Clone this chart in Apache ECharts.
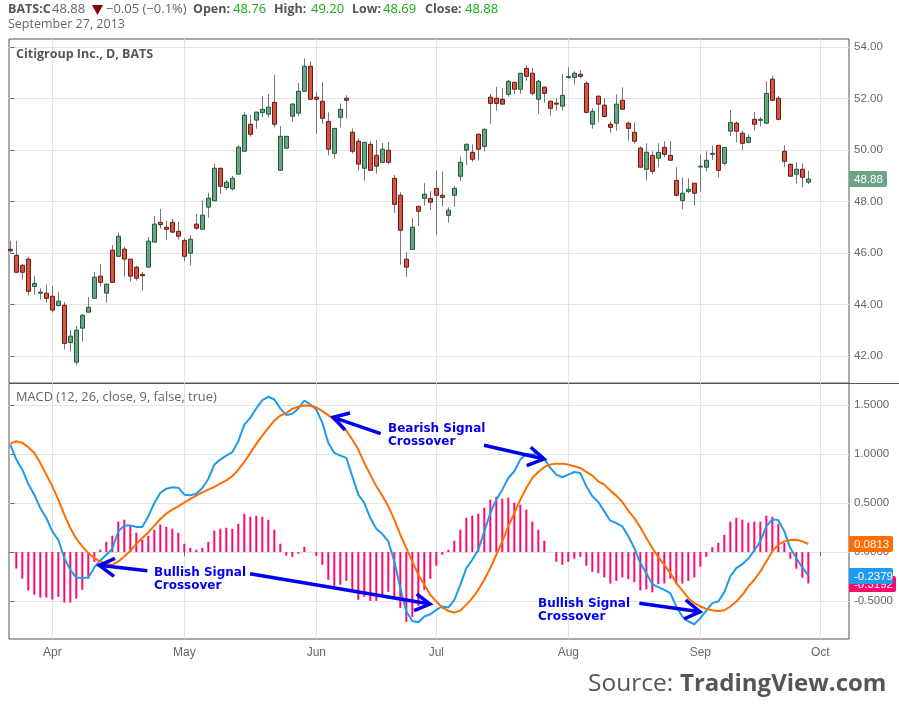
<!DOCTYPE html>
<html>
<head>
<meta charset="utf-8">
<title>Citigroup MACD</title>
<style>
html, body { margin: 0; padding: 0; background: #fff; }
#main { width: 899px; height: 710px; }
</style>
<script src="https://cdn.jsdelivr.net/npm/echarts@6/dist/echarts.min.js"></script>
</head>
<body>
<div id="main"></div>
<script>
// daily bars (index = trading day)
var opens = [46.15,45.92,45.53,45.77,44.71,44.45,44.45,44.33,43.97,43.98,42.53,41.77,43.09,43.71,44.25,45.11,44.45,46.12,45.88,46.16,45.77,45.46,45.18,45.46,46.43,47.20,47.01,47.20,46.85,46.50,46.00,47.13,46.93,47.79,48.04,49.30,48.55,48.50,49.07,49.96,51.01,51.17,51.46,51.40,51.86,49.22,50.08,51.32,51.44,52.29,53.26,52.06,51.90,51.12,49.88,51.28,52.02,50.70,50.35,49.30,50.23,49.80,49.53,50.00,48.91,48.25,45.77,46.15,47.82,48.13,48.13,48.52,48.25,47.47,48.25,48.99,50.00,49.92,50.62,50.15,52.06,52.02,51.98,52.17,52.64,52.37,53.18,52.99,51.98,52.45,51.90,51.83,51.71,52.82,52.83,52.95,52.60,51.01,52.10,51.75,51.01,51.05,51.94,51.05,50.70,50.08,49.26,49.80,49.69,50.11,49.80,48.83,48.05,48.40,48.72,49.35,49.34,49.84,50.19,49.49,50.74,51.05,50.66,50.31,51.20,51.16,51.05,52.76,52.02,49.96,49.45,49.07,49.26,48.76];
var closes = [46.10,45.26,45.26,44.52,44.83,44.49,44.25,43.79,44.14,42.50,42.78,43.01,43.59,43.90,45.07,44.87,44.80,44.87,46.66,45.77,45.11,45.03,45.13,46.47,47.13,47.11,46.93,46.82,46.66,45.88,46.54,46.97,47.48,48.14,49.30,48.60,48.76,48.91,50.12,51.36,50.62,51.48,51.59,51.67,51.01,50.54,50.54,51.79,52.29,53.26,51.98,51.98,51.24,50.04,50.85,51.59,51.94,49.96,49.46,50.31,49.22,49.38,50.04,49.53,47.90,46.89,45.46,47.01,47.63,48.29,47.98,48.25,48.17,47.67,48.52,49.53,50.23,49.65,50.04,50.81,51.82,51.82,51.79,52.68,52.37,52.99,52.87,52.21,52.68,52.21,51.63,51.79,52.13,52.86,52.99,52.87,51.47,51.51,51.79,51.31,50.89,51.79,51.59,50.85,50.35,49.34,49.92,49.18,49.92,49.84,49.61,48.25,48.33,48.48,48.33,49.38,49.61,49.88,49.22,50.11,51.08,50.74,50.27,50.50,51.01,51.20,52.21,51.94,51.20,49.57,48.99,49.26,48.95,48.88];
var lows = [46.03,45.26,44.98,44.36,44.38,44.20,44.08,43.70,43.93,42.26,42.18,41.64,42.57,43.71,44.25,44.71,44.08,44.87,45.88,45.09,44.90,44.94,44.55,45.46,46.43,46.96,46.53,46.78,46.53,45.68,45.52,46.91,46.93,47.38,48.03,48.30,48.46,48.43,49.07,49.96,50.53,50.84,51.28,51.28,50.88,49.22,50.04,51.11,51.33,52.29,51.98,50.64,51.03,49.79,49.67,50.88,51.23,49.87,49.21,48.82,49.22,49.09,49.53,49.46,47.57,45.56,45.09,46.15,47.07,47.85,47.68,46.72,47.81,47.19,47.81,48.81,49.43,49.55,49.60,49.95,51.03,51.54,51.79,52.08,52.19,52.19,52.70,52.13,51.42,51.85,51.34,51.54,51.54,52.77,52.55,52.78,51.43,50.84,51.11,51.27,50.68,50.76,51.59,50.37,50.26,49.34,48.83,49.07,49.34,49.73,49.61,48.21,47.71,48.33,47.85,48.39,49.18,49.63,48.95,49.41,50.55,50.31,50.00,50.27,50.77,50.93,51.01,51.94,51.16,49.34,48.99,48.70,48.56,48.69];
var highs = [46.48,46.48,45.59,45.86,45.12,44.64,44.77,44.73,44.49,44.11,43.02,43.18,43.64,44.29,45.28,45.59,44.83,46.32,46.80,46.25,45.77,45.51,45.28,46.63,47.45,47.72,47.26,47.33,47.22,46.58,46.71,47.53,48.05,48.35,49.47,49.32,48.85,49.00,50.19,51.48,51.37,51.50,52.11,52.19,52.93,50.94,50.54,51.83,52.61,53.57,53.45,52.26,52.64,51.47,50.85,51.82,52.13,50.85,50.46,50.31,50.35,50.40,50.28,50.32,49.04,48.37,46.04,47.37,47.82,48.72,48.41,49.22,49.18,47.78,48.60,49.76,50.27,50.23,50.66,50.85,52.19,52.46,52.41,52.73,52.64,52.99,53.31,53.20,52.73,52.48,51.94,52.02,52.96,53.22,53.07,53.10,52.68,51.63,52.13,52.02,51.12,52.17,52.44,51.12,51.08,50.15,50.27,49.96,50.27,50.35,50.35,49.34,48.95,48.91,48.72,49.84,49.96,50.19,50.19,50.11,51.56,51.12,50.77,50.62,51.49,51.28,52.68,52.89,52.10,50.19,49.49,49.53,49.49,49.20];

// MACD pane
var histogram = [-0.01,-0.167,-0.27,-0.39,-0.435,-0.463,-0.463,-0.483,-0.456,-0.514,-0.514,-0.473,-0.384,-0.27,-0.10,0.024,0.105,0.167,0.31,0.33,0.27,0.197,0.126,0.167,0.228,0.28,0.258,0.238,0.197,0.085,0.044,0.024,0.044,0.105,0.218,0.238,0.248,0.238,0.289,0.39,0.36,0.37,0.36,0.33,0.228,0.085,-0.037,-0.048,-0.017,0.054,0.003,-0.037,-0.129,-0.282,-0.344,-0.333,-0.293,-0.384,-0.486,-0.456,-0.497,-0.497,-0.435,-0.405,-0.456,-0.568,-0.711,-0.66,-0.548,-0.384,-0.272,-0.139,-0.027,0.024,0.116,0.228,0.35,0.371,0.391,0.452,0.534,0.565,0.544,0.554,0.503,0.483,0.432,0.31,0.228,0.116,0.003,-0.099,-0.129,-0.099,-0.068,-0.048,-0.139,-0.2,-0.214,-0.258,-0.32,-0.293,-0.258,-0.276,-0.306,-0.391,-0.378,-0.41,-0.327,-0.32,-0.272,-0.32,-0.32,-0.293,-0.258,-0.15,-0.048,0.05,0.095,0.177,0.31,0.35,0.33,0.3,0.31,0.31,0.371,0.36,0.289,0.095,-0.068,-0.17,-0.262,-0.3192];
var macdLine = [1.095,0.942,0.84,0.694,0.585,0.449,0.347,0.211,0.126,-0.061,-0.18,-0.259,-0.265,-0.259,-0.156,-0.085,-0.027,0.034,0.211,0.272,0.272,0.255,0.255,0.364,0.5,0.602,0.646,0.66,0.656,0.585,0.578,0.595,0.653,0.745,0.891,0.942,0.983,1.017,1.129,1.299,1.367,1.463,1.548,1.582,1.554,1.463,1.395,1.408,1.463,1.544,1.503,1.452,1.316,1.112,1.01,0.983,0.959,0.772,0.585,0.5,0.347,0.238,0.184,0.109,-0.095,-0.367,-0.605,-0.701,-0.714,-0.656,-0.633,-0.588,-0.554,-0.565,-0.486,-0.333,-0.163,-0.078,0.024,0.211,0.398,0.534,0.636,0.755,0.823,0.942,1.0,0.993,1.01,0.952,0.857,0.789,0.762,0.789,0.816,0.806,0.67,0.568,0.51,0.415,0.32,0.296,0.262,0.16,0.041,-0.112,-0.214,-0.327,-0.357,-0.384,-0.418,-0.554,-0.656,-0.707,-0.735,-0.673,-0.595,-0.52,-0.503,-0.408,-0.248,-0.163,-0.122,-0.068,0.017,0.109,0.262,0.333,0.327,0.211,0.041,-0.061,-0.156,-0.2379];
var signalLine = [1.105,1.129,1.112,1.068,1.01,0.908,0.789,0.67,0.534,0.381,0.245,0.136,0.058,-0.01,-0.061,-0.095,-0.122,-0.129,-0.095,-0.044,0.014,0.082,0.143,0.2,0.269,0.337,0.391,0.432,0.466,0.507,0.541,0.575,0.609,0.636,0.663,0.697,0.731,0.772,0.84,0.918,1.01,1.102,1.187,1.265,1.34,1.391,1.415,1.459,1.48,1.493,1.49,1.473,1.435,1.395,1.344,1.293,1.238,1.146,1.044,0.908,0.789,0.67,0.575,0.466,0.33,0.177,0.041,-0.095,-0.231,-0.333,-0.435,-0.503,-0.565,-0.599,-0.616,-0.595,-0.537,-0.469,-0.384,-0.282,-0.163,-0.027,0.109,0.262,0.398,0.534,0.653,0.755,0.816,0.867,0.891,0.901,0.901,0.891,0.874,0.857,0.816,0.779,0.721,0.687,0.626,0.575,0.51,0.422,0.347,0.252,0.143,0.041,-0.051,-0.129,-0.214,-0.316,-0.391,-0.469,-0.52,-0.554,-0.578,-0.592,-0.599,-0.592,-0.554,-0.503,-0.435,-0.35,-0.282,-0.197,-0.095,0.007,0.075,0.109,0.122,0.126,0.109,0.0813];

var monthTicks = [7, 29, 51, 71, 93, 115, 135];
var monthNames = ['Apr', 'May', 'Jun', 'Jul', 'Aug', 'Sep', 'Oct'];
var priceTicks = [42, 44, 46, 48, 50, 52, 54];
var macdTicks = [-0.5, 0, 0.5, 1, 1.5];

var GRAY = '#666';
var AXIS_FONT = 'Liberation Sans';
var BLUE_NOTE = '#0000f0';

function toPairs(list) {
    return list.map(function(v, i) { return [i, v]; });
}

// wicks and bodies are separate, the wick colour differs from the body border
var wickData = opens.map(function(o, i) { return [i, o, closes[i], lows[i], highs[i]]; });
var bodyData = opens.map(function(o, i) {
    return [i, o, closes[i], Math.min(o, closes[i]), Math.max(o, closes[i])];
});

function xAxisFor(gridIndex, showLabels) {
    return {
        type: 'value', gridIndex: gridIndex, min: -0.217, max: 139.78,
        axisLine: { show: false },
        axisTick: { show: showLabels, customValues: monthTicks, length: 4, lineStyle: { color: GRAY } },
        axisLabel: {
            show: showLabels, customValues: monthTicks, color: GRAY, fontFamily: AXIS_FONT, fontSize: 12, margin: 8,
            formatter: function(v) { return monthNames[monthTicks.indexOf(v)] || ''; }
        },
        splitLine: { show: false }
    };
}

// the panes do not start on a round value, so the ticks are listed instead of using interval
function yAxisFor(gridIndex, min, max, ticks, digits) {
    return {
        type: 'value', gridIndex: gridIndex, position: 'right', min: min, max: max,
        axisLine: { show: false },
        axisTick: { show: true, customValues: ticks, length: 4, lineStyle: { color: GRAY } },
        axisLabel: {
            customValues: ticks, color: GRAY, fontFamily: AXIS_FONT, fontSize: 11.5, margin: 5,
            formatter: function(v) { return v.toFixed(digits); }
        },
        splitLine: { show: false }
    };
}

function gridLines(xi, yi, ticks) {
    var lines = monthTicks.map(function(t) { return { xAxis: t }; });
    ticks.forEach(function(t) { lines.push({ yAxis: t }); });
    return {
        type: 'line', xAxisIndex: xi, yAxisIndex: yi, data: [], z: 0, silent: true,
        markLine: {
            z: 0, silent: true, symbol: 'none', animation: false, label: { show: false },
            lineStyle: { color: '#e4e4e4', width: 1, type: 'solid' },
            data: lines
        }
    };
}

function note(x, y, text) {
    return { type: 'text', x: x, y: y, z: 100, style: {
        text: text, fill: BLUE_NOTE, font: 'bold 12px "DejaVu Sans"', lineHeight: 13
    } };
}

function arrow(tail, tip, h1, h2) {
    var st = { stroke: BLUE_NOTE, lineWidth: 3.5, lineCap: 'butt', fill: null };
    return [
        { type: 'polyline', z: 100, shape: { points: [tail, tip] }, style: st },
        { type: 'polyline', z: 100, shape: { points: [h1, tip, h2] }, style: st }
    ];
}

function head(x, text, color, bold) {
    return { type: 'text', x: x, y: 3, z: 100, style: {
        text: text, fill: color, font: (bold ? 'bold 12.5px' : '13px') + ' "Open Sans"'
    } };
}

function tag(y, w, text, color, z) {
    return [
        { type: 'rect', z: z, shape: { x: 849, y: y, width: w, height: 16, r: [0, 2, 2, 0] }, style: { fill: color } },
        { type: 'text', z: z + 1, x: 854, y: y + 2.5, style: { text: text, fill: '#fff', font: '11.5px "Liberation Sans"' } }
    ];
}

var chart = echarts.init(document.getElementById('main'));
chart.setOption({
    animation: false,
    backgroundColor: '#fff',
    grid: [
        { left: 9, top: 39, width: 840, height: 344, show: true, borderColor: '#555', borderWidth: 1 },
        { left: 9, top: 383.5, width: 840, height: 255.5, show: true, borderColor: '#555', borderWidth: 1 }
    ],
    xAxis: [xAxisFor(0, false), xAxisFor(1, true)],
    yAxis: [yAxisFor(0, 40.96, 54.32, priceTicks, 2), yAxisFor(1, -0.885, 1.717, macdTicks, 4)],
    series: [
        gridLines(0, 0, priceTicks),
        gridLines(1, 1, macdTicks),
        {
            type: 'candlestick', name: 'wick', xAxisIndex: 0, yAxisIndex: 0, data: wickData, barWidth: 0.1, z: 2,
            encode: { x: 0, y: [1, 2, 3, 4] },
            itemStyle: { color: '#777', color0: '#777', borderColor: '#777', borderColor0: '#777', borderWidth: 1 }
        },
        {
            type: 'candlestick', name: 'Citigroup', xAxisIndex: 0, yAxisIndex: 0, data: bodyData, barWidth: 4, z: 3,
            encode: { x: 0, y: [1, 2, 3, 4] },
            itemStyle: { color: '#6ba583', color0: '#d75442', borderColor: '#1f5a3a', borderColor0: '#6b1a13', borderWidth: 1 }
        },
        {
            type: 'bar', name: 'Histogram', xAxisIndex: 1, yAxisIndex: 1, data: toPairs(histogram), barWidth: 2, z: 2,
            itemStyle: { color: '#ff0a6c' }
        },
        {
            type: 'line', name: 'MACD', xAxisIndex: 1, yAxisIndex: 1, data: toPairs(macdLine), z: 3,
            showSymbol: false, lineStyle: { color: '#1c9bf0', width: 2 }
        },
        {
            type: 'line', name: 'Signal', xAxisIndex: 1, yAxisIndex: 1, data: toPairs(signalLine), z: 4,
            showSymbol: false, lineStyle: { color: '#ff6d00', width: 2 }
        }
    ],
    graphic: { elements: [].concat(
        [
            head(8, 'BATS:C', '#555', true),
            head(52, closes[closes.length - 1].toFixed(2), '#666'),
            { type: 'polygon', z: 100, shape: { points: [[92, 5], [103, 5], [97.5, 15]] }, style: { fill: '#8b0000' } },
            head(106, '\u22120.05 (\u22120.1%)', '#666'),
            head(193, 'Open:', '#555', true), head(233, opens[opens.length - 1].toFixed(2), '#18a818'),
            head(274, 'High:', '#555', true), head(311, highs[highs.length - 1].toFixed(2), '#18a818'),
            head(352, 'Low:', '#555', true), head(383, lows[lows.length - 1].toFixed(2), '#18a818'),
            head(425, 'Close:', '#555', true), head(465, closes[closes.length - 1].toFixed(2), '#18a818'),
            { type: 'text', x: 8, y: 18, z: 100, style: { text: 'September 27, 2013', fill: '#666', font: '12.5px "Open Sans"' } },
            { type: 'text', x: 16, y: 48, z: 100, style: { text: 'Citigroup Inc., D, BATS', fill: '#555', font: 'bold 12.5px "Open Sans"' } },
            { type: 'text', x: 16, y: 391, z: 100, style: { text: 'MACD (12, 26, close, 9, false, true)', fill: '#666', font: '12.8px "Open Sans"' } },
            { type: 'line', z: 50, shape: { x1: 849, y1: 383.5, x2: 899, y2: 383.5 }, style: { stroke: '#555', lineWidth: 1 } },
            { type: 'text', x: 588, y: 672, z: 100, style: { text: 'Source:', fill: '#555', font: '24.5px "Open Sans"' } },
            { type: 'text', x: 680, y: 672, z: 100, style: { text: 'TradingView.com', fill: '#555', font: 'bold 24px "Open Sans"' } },
            note(388, 422, 'Bearish Signal\nCrossover'),
            note(154, 566, 'Bullish Signal\nCrossover'),
            note(538, 597, 'Bullish Signal\nCrossover')
        ],
        arrow([380.7, 433.7], [333.3, 417.3], [350, 413], [345, 430]),
        arrow([484, 445.3], [544, 459], [530.7, 447.3], [526.7, 465.7]),
        arrow([147.3, 570.7], [99.3, 565.3], [115, 558.3], [114, 576.3]),
        arrow([250, 573.7], [430, 604], [416.7, 594], [414, 610.7]),
        arrow([639.3, 603.3], [700, 611.7], [685.7, 600], [684, 619]),
        tag(171, 38, closes[closes.length - 1].toFixed(2), '#6ba583', 90),
        tag(576, 47, histogram[histogram.length - 1].toFixed(4), '#ff0a6c', 80),
        tag(536, 44, signalLine[signalLine.length - 1].toFixed(4), '#ff6d00', 90),
        tag(568, 44, macdLine[macdLine.length - 1].toFixed(4), '#1c9bf0', 90)
    ) }
});
</script>
</body>
</html>
